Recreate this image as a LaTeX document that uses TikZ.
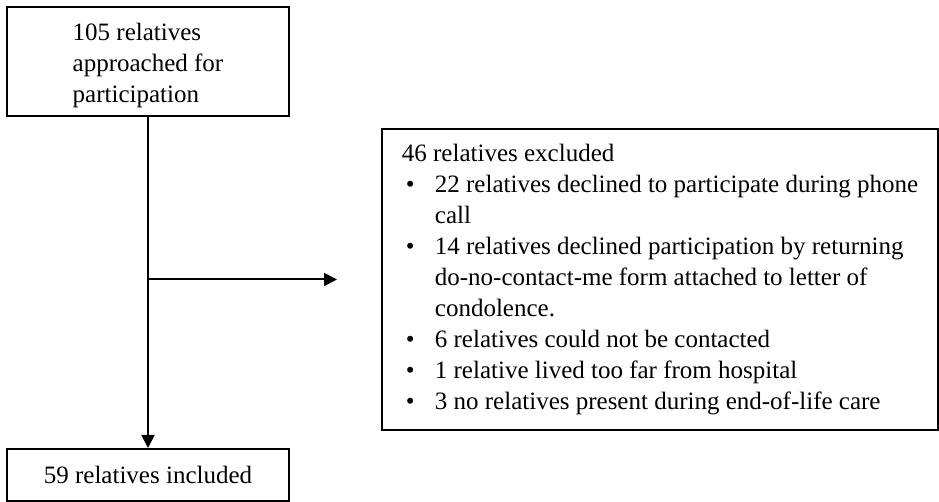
\documentclass[tikz,border=0pt]{standalone}
\usepackage{fontspec}
\setmainfont{Liberation Serif}
\usetikzlibrary{arrows.meta}

\tikzstyle{rect} = [rectangle, draw=black, line width=1pt, inner sep=0pt, font=\fontsize{12.5pt}{15.5pt}\selectfont]
\tikzstyle{arrow} = [line width=1pt, -{Triangle[length=6.5pt, width=6.5pt]}]

\newcommand{\bul}{\hspace*{2pt}\makebox[14.5pt][l]{\textbullet}}
\newcommand{\ind}{\hspace*{16.5pt}}

\begin{document}
\begin{tikzpicture}[x=0.5pt, y=-0.5pt]

\useasboundingbox (0,0) rectangle (939,502);

\node (approached) [rect, minimum width=141pt, minimum height=54.5pt, align=left] at (148,61.5) {\rule{0pt}{13pt}105 relatives\\approached for\\participation};

\node (included) [rect, minimum width=141pt, minimum height=26pt] at (148,475) {59 relatives included};

\node (excluded) [rect, minimum width=278pt, minimum height=150.5pt, inner xsep=8.5pt, inner ysep=4pt, align=left] at (660,279.5) {46 relatives excluded\\
\bul 22 relatives declined to participate during phone\\
\ind call\\
\bul 14 relatives declined participation by returning\\
\ind do-no-contact-me form attached to letter of\\
\ind condolence.\\
\bul 6 relatives could not be contacted\\
\bul 1 relative lived too far from hospital\\
\bul 3 no relatives present during end-of-life care};

\coordinate (split) at (148,279.5);

\draw[arrow] (approached) -- (included);

\draw[arrow] (split) -- ([xshift=-22pt]excluded.west);

\end{tikzpicture}
\end{document}
